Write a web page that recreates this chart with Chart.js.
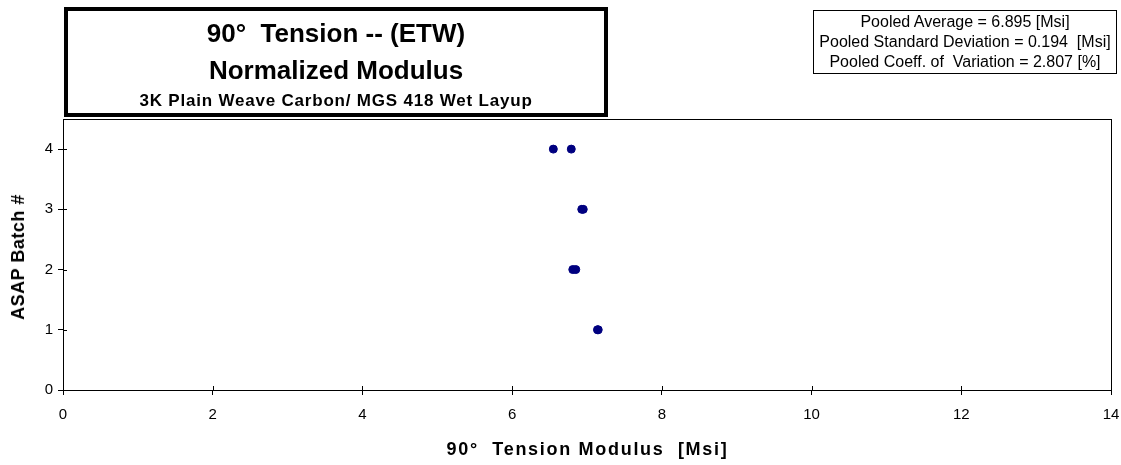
<!DOCTYPE html>
<html>
<head>
<meta charset="utf-8">
<script src="https://cdn.jsdelivr.net/npm/chart.js@4"></script>
<style>
    body { margin: 0; background: #fff; }
    #wrap { position: relative; width: 1121px; height: 465px; font-family: Arial, "Liberation Sans", sans-serif; color: #000; }
    canvas { position: absolute; left: 0; top: 0; }
    .title-box {
        position: absolute; left: 64px; top: 7px; width: 536px; height: 102px;
        border: 4px solid #000; text-align: center; font-weight: bold;
    }
    .title-box div { position: absolute; left: 0; right: 0; white-space: nowrap; }
    .title-box .t1 { top: 7px; font-size: 26px; line-height: 30px; }
    .title-box .t2 { top: 44px; font-size: 26px; line-height: 30px; }
    .title-box .t3 { top: 80px; font-size: 17px; line-height: 20px; letter-spacing: 0.8px; }
    .stats-box {
        position: absolute; left: 813px; top: 10px; width: 302px; height: 61px;
        border: 1px solid #000; text-align: center; font-size: 16px; line-height: 20px;
        padding-top: 1px; white-space: nowrap;
    }
    .x-title { position: absolute; left: 0; width: 1175px; top: 438px; text-align: center;
        font-size: 18px; font-weight: bold; letter-spacing: 1.7px; line-height: 22px; white-space: pre; }
    .y-title { position: absolute; left: 18px; top: 257px; transform: translate(-50%, -50%) rotate(-90deg);
        font-size: 18px; font-weight: bold; letter-spacing: 0.5px; line-height: 22px; white-space: pre; }
</style>
</head>
<body>
<div id="wrap">
    <canvas id="chart" width="1121" height="465"></canvas>
    <div class="title-box">
        <div class="t1">90°&nbsp; Tension -- (ETW)</div>
        <div class="t2">Normalized Modulus</div>
        <div class="t3">3K Plain Weave Carbon/ MGS 418 Wet Layup</div>
    </div>
    <div class="stats-box">
        Pooled Average = 6.895 [Msi]<br>
        Pooled Standard Deviation = 0.194&nbsp; [Msi]<br>
        Pooled Coeff. of&nbsp; Variation = 2.807 [%]
    </div>
    <div class="x-title">90°  Tension Modulus  [Msi]</div>
    <div class="y-title">ASAP Batch #</div>
</div>
<script>
// values
const batchNumbers = [1, 1, 2, 2, 3, 3, 4, 4];
const modulusValues = [7.14, 7.15, 6.81, 6.85, 6.93, 6.95, 6.55, 6.79];
const xTickValues = [0, 2, 4, 6, 8, 10, 12, 14];
const yTickValues = [0, 1, 2, 3, 4];

const points = modulusValues.map((v, i) => ({ x: v, y: batchNumbers[i] }));
const fontFamily = 'Arial, "Liberation Sans", sans-serif';

// black frame round the plot area, plus the inner half of the cross ticks
const frame = {
    id: 'frame',
    afterDraw(chart) {
        const a = chart.chartArea;
        const ctx = chart.ctx;
        const xs = chart.scales.x;
        const ys = chart.scales.y;
        ctx.save();
        ctx.strokeStyle = '#000';
        ctx.lineWidth = 1;
        ctx.strokeRect(Math.round(a.left) + 0.5, Math.round(a.top) + 0.5,
            Math.round(a.right - a.left), Math.round(a.bottom - a.top));
        ctx.beginPath();
        xTickValues.forEach(v => {
            const px = Math.round(xs.getPixelForValue(v)) + 0.5;
            ctx.moveTo(px, a.bottom);
            ctx.lineTo(px, a.bottom - 4);
        });
        yTickValues.forEach(v => {
            const py = Math.round(ys.getPixelForValue(v)) + 0.5;
            ctx.moveTo(a.left, py);
            ctx.lineTo(a.left + 4, py);
        });
        ctx.stroke();
        ctx.restore();
    }
};

const ctx = document.getElementById('chart').getContext('2d');
const chart = new Chart(ctx, {
    type: 'scatter',
    data: {
        datasets: [{
            data: points,
            backgroundColor: '#000080',
            borderColor: '#000080',
            pointRadius: 4,
            pointHoverRadius: 4
        }]
    },
    options: {
        responsive: false,
        animation: false,
        events: [],
        layout: { padding: { left: 0, top: 119, right: 10, bottom: 0 } },
        plugins: { legend: { display: false }, tooltip: { enabled: false } },
        scales: {
            x: {
                type: 'linear',
                min: 0,
                max: 14,
                afterBuildTicks: s => { s.ticks = xTickValues.map(v => ({ value: v })); },
                afterFit: s => { s.height = 75; s.paddingLeft = 0; s.paddingRight = 0; },
                grid: { drawOnChartArea: false, color: '#000', tickLength: 5 },
                border: { color: '#000', width: 1 },
                ticks: { color: '#000', font: { family: fontFamily, size: 15 }, padding: 11, maxRotation: 0 },
                title: { display: false }
            },
            y: {
                type: 'linear',
                min: 0,
                max: 4.5,
                afterBuildTicks: s => { s.ticks = yTickValues.map(v => ({ value: v })); },
                afterFit: s => { s.width = 63; s.paddingTop = 0; s.paddingBottom = 0; },
                grid: { drawOnChartArea: false, color: '#000', tickLength: 5 },
                border: { color: '#000', width: 1 },
                ticks: { color: '#000', font: { family: fontFamily, size: 15 }, padding: 5 },
                title: { display: false }
            }
        }
    },
    plugins: [frame]
});
</script>
</body>
</html>
